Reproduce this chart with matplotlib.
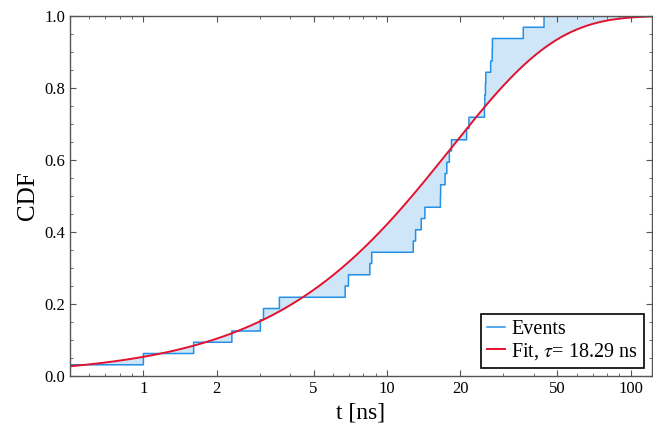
import numpy as np
import matplotlib
matplotlib.use("Agg")
import matplotlib.pyplot as plt
from matplotlib.ticker import FixedLocator, FixedFormatter, MultipleLocator

events = [0.35, 1.0, 1.61, 2.31, 3.02, 3.11, 3.62, 6.73, 6.94, 8.5, 8.65,
          12.8, 13.1, 13.8, 14.3, 16.55, 16.6, 17.3, 17.6, 18.0, 18.4,
          21.2, 21.7, 25.1, 25.2, 25.35, 25.45, 26.6, 27.0, 27.05, 36.2, 44.1]
tau = 18.29
xticks = [1, 2, 5, 10, 20, 50, 100]
xlabels = ["1", "2", "5", "10", "20", "50", "100"]

plt.rcParams["font.family"] = "Liberation Serif"
plt.rcParams["mathtext.fontset"] = "stix"

ev = np.sort(np.array(events))
n = len(ev)
t = np.logspace(np.log10(0.5), np.log10(122), 3000)
ecdf = np.searchsorted(ev, t, side="right") / n
fit = 1 - np.exp(-t / tau)

blue = "#2490e6"
red = "#e3122f"

fig = plt.figure(figsize=(6.53, 4.36), dpi=100)
ax = fig.add_axes([0.107, 0.1376, 0.891, 0.8257])

ax.fill_between(t, ecdf, fit, color="#cfe5f8", lw=0)
ax.plot(t, ecdf, color=blue, lw=1.1, label="Events", drawstyle="steps-post")
ax.plot(t, fit, color=red, lw=1.4, label=r"Fit, $\tau$= %.2f ns" % tau)

ax.set_xscale("log")
ax.set_xlim(0.5, 122)
ax.set_ylim(0, 1)
ax.xaxis.set_major_locator(FixedLocator(xticks))
ax.xaxis.set_major_formatter(FixedFormatter(xlabels))
ax.xaxis.set_minor_locator(FixedLocator([0.6, 0.7, 0.8, 0.9, 3, 4, 6, 7, 8, 9,
                                         30, 40, 60, 70, 80, 90]))
ax.xaxis.set_minor_formatter(plt.NullFormatter())
ax.yaxis.set_major_locator(MultipleLocator(0.2))
ax.yaxis.set_minor_locator(MultipleLocator(0.05))
ax.yaxis.set_major_formatter(plt.FuncFormatter(lambda v, p: "%.1f" % v))

ax.tick_params(which="both", direction="in", top=True, right=True,
               color="#555555", labelsize=12)
ax.tick_params(which="major", length=4, width=0.8)
ax.tick_params(which="minor", length=2.5, width=0.6)
for s in ax.spines.values():
    s.set_color("#555555")
    s.set_linewidth(1.0)

ax.set_xlabel("t [ns]", fontsize=17)
ax.set_ylabel("CDF", fontsize=18)

leg = ax.legend(loc="lower right", fontsize=14.5, handlelength=0.9,
                handletextpad=0.3, borderpad=0.3, labelspacing=0.1,
                fancybox=False, framealpha=1, borderaxespad=0.4)
leg.get_frame().set_edgecolor("black")
leg.get_frame().set_linewidth(1.2)

fig.savefig("out.png", dpi=100)
